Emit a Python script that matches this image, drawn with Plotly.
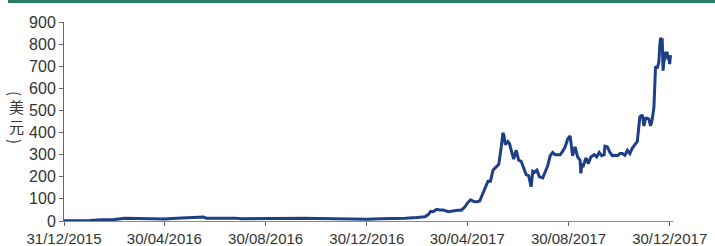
import plotly.graph_objects as go

dates = [
    "2015-12-31", "2016-01-15", "2016-01-31", "2016-02-14", "2016-02-29", "2016-03-13",
    "2016-03-31", "2016-04-15", "2016-04-30", "2016-05-15", "2016-05-31", "2016-06-10",
    "2016-06-16", "2016-06-20", "2016-06-30", "2016-07-15", "2016-07-24", "2016-08-01",
    "2016-08-15", "2016-08-31", "2016-09-15", "2016-09-30", "2016-10-15", "2016-10-31",
    "2016-11-15", "2016-11-30", "2016-12-15", "2016-12-31", "2017-01-15", "2017-01-31",
    "2017-02-15", "2017-02-28", "2017-03-05", "2017-03-10", "2017-03-14", "2017-03-17",
    "2017-03-20", "2017-03-24", "2017-03-28", "2017-04-01", "2017-04-07", "2017-04-12",
    "2017-04-18", "2017-04-23", "2017-04-27", "2017-04-30", "2017-05-04", "2017-05-08",
    "2017-05-12", "2017-05-15", "2017-05-19", "2017-05-22", "2017-05-25", "2017-05-28",
    "2017-05-31", "2017-06-04", "2017-06-07", "2017-06-10", "2017-06-12", "2017-06-13",
    "2017-06-15", "2017-06-18", "2017-06-20", "2017-06-22", "2017-06-25", "2017-06-28",
    "2017-07-01", "2017-07-04", "2017-07-07", "2017-07-10", "2017-07-13", "2017-07-16",
    "2017-07-18", "2017-07-20", "2017-07-23", "2017-07-26", "2017-07-30", "2017-08-02",
    "2017-08-05", "2017-08-08", "2017-08-11", "2017-08-14", "2017-08-17", "2017-08-20",
    "2017-08-23", "2017-08-26", "2017-08-29", "2017-09-01", "2017-09-04", "2017-09-07",
    "2017-09-10", "2017-09-13", "2017-09-14", "2017-09-15", "2017-09-17", "2017-09-20",
    "2017-09-23", "2017-09-26", "2017-09-30", "2017-10-03", "2017-10-06", "2017-10-09",
    "2017-10-12", "2017-10-13", "2017-10-16", "2017-10-19", "2017-10-22", "2017-10-25",
    "2017-10-28", "2017-10-31", "2017-11-03", "2017-11-06", "2017-11-09", "2017-11-12",
    "2017-11-15", "2017-11-18", "2017-11-21", "2017-11-24", "2017-11-27", "2017-11-29",
    "2017-12-01", "2017-12-03", "2017-12-05", "2017-12-07", "2017-12-09", "2017-12-11",
    "2017-12-12", "2017-12-13", "2017-12-15", "2017-12-17", "2017-12-18", "2017-12-19",
    "2017-12-20", "2017-12-21", "2017-12-22", "2017-12-23", "2017-12-25", "2017-12-27",
    "2017-12-28", "2017-12-29", "2017-12-30", "2017-12-31",
]
prices = [
    0.95, 1.2, 2.2, 5.2, 6.3, 12,
    11.4, 8.3, 8.8, 12.5, 14, 15,
    18, 12, 12.4, 11.6, 13, 10,
    11, 11.8, 12, 13.2, 12, 10.9,
    10, 8.6, 7.8, 8.0, 9.9, 10.7,
    12.9, 15.7, 19, 19, 28.8, 44,
    42, 53, 50, 50, 42, 46,
    49, 49, 63, 80, 96, 88,
    87, 90, 125, 156, 180, 180,
    230, 245, 256, 335, 398, 390,
    345, 360, 350, 320, 280, 320,
    275, 270, 240, 210, 205, 155,
    225, 220, 230, 200, 195, 225,
    250, 295, 310, 300, 300, 300,
    315, 335, 370, 385, 295, 335,
    290, 275, 215, 255, 250, 285,
    260, 290, 300, 290, 310, 295,
    300, 338, 335, 310, 295, 297,
    295, 305, 305, 297, 320, 305,
    330, 345, 360, 470, 480, 430,
    465, 465, 460, 430, 460, 515,
    650, 700, 690, 720, 790, 828,
    820, 820, 680, 720, 760, 760,
    730, 740, 710, 750,
]

tick_vals = ["2015-12-31", "2016-04-30", "2016-08-30", "2016-12-30",
             "2017-04-30", "2017-08-30", "2017-12-30"]
tick_text = ["31/12/2015", "30/04/2016", "30/08/2016", "30/12/2016",
             "30/04/2017", "30/08/2017", "30/12/2017"]
y_ticks = [0, 100, 200, 300, 400, 500, 600, 700, 800, 900]
y_title_parts = ["(", "美<br>元", ")"]

fig = go.Figure()
fig.add_trace(go.Scatter(
    x=dates, y=prices, mode="lines",
    line=dict(color="#1c3f86", width=3),
    hoverinfo="skip",
))

fig.update_layout(
    width=715, height=246,
    margin=dict(l=64, r=42, t=22, b=25, autoexpand=False),
    paper_bgcolor="white", plot_bgcolor="white",
    showlegend=False,
    font=dict(family="Liberation Sans, Arial, sans-serif", color="#333333", size=15),
    xaxis=dict(
        type="date", automargin=False,
        range=["2015-12-31", "2018-01-03"],
        tickmode="array", tickvals=tick_vals, ticktext=tick_text,
        showgrid=False, zeroline=False,
        showline=True, linecolor="#8a8a8a", linewidth=1,
        ticks="outside", ticklen=4, tickcolor="#666666",
        tickfont=dict(size=15, color="#333333"),
    ),
    yaxis=dict(
        range=[0, 900], automargin=False,
        tickmode="array", tickvals=y_ticks,
        showgrid=False, zeroline=False,
        showline=True, linecolor="#666666", linewidth=1,
        ticks="outside", ticklen=4, tickcolor="#666666",
        tickfont=dict(size=16, color="#333333"),
    ),
    shapes=[dict(type="rect", xref="paper", yref="paper",
                 x0=(8 - 64) / 609, x1=(715 - 64) / 609,
                 y0=(221 - 3) / 199, y1=(221 + 1) / 199,
                 fillcolor="#2b7a64", line=dict(width=0))],
)

ys = [93, 117, 141]
angles = [90, 0, 90]
sizes = [15, 15, 15]
for txt, yy, ang, sz in zip(y_title_parts, ys, angles, sizes):
    fig.add_annotation(
        text=txt, xref="paper", yref="paper",
        x=(16 - 64) / 609, y=(221 - yy) / 199,
        xanchor="center", yanchor="middle", showarrow=False,
        textangle=ang, borderpad=0,
        font=dict(family="Noto Sans CJK SC", size=sz, color="#333333"),
    )

fig.write_html(
    "out.html",
    config={"displayModeBar": False},
    post_script="document.body.style.margin='0';document.body.style.padding='0';",
)
